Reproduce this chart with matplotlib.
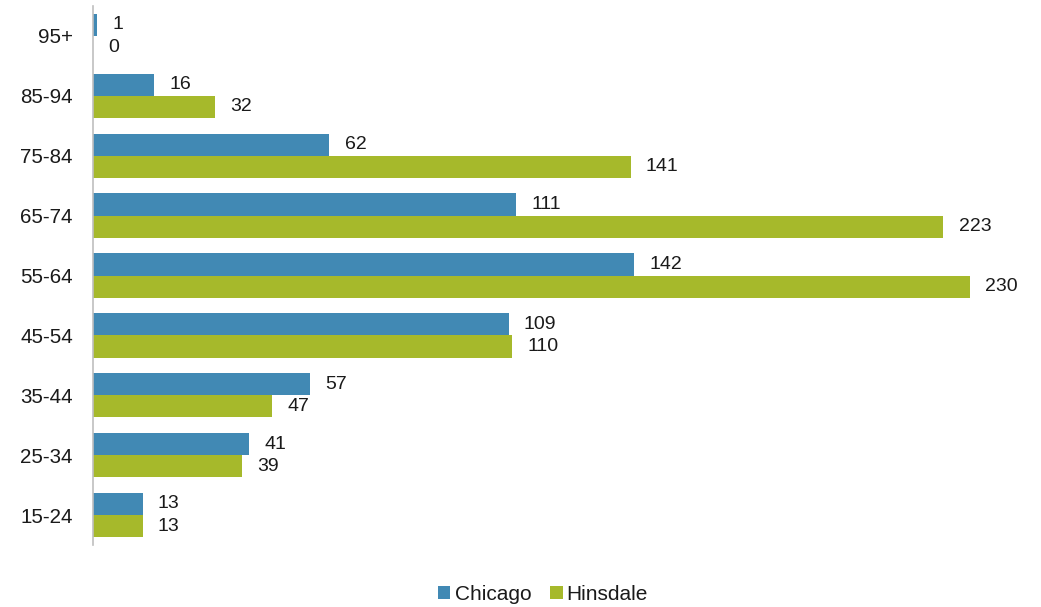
import matplotlib
matplotlib.use("Agg")
import matplotlib.pyplot as plt
import numpy as np

plt.rcParams['font.family'] = ['Liberation Sans', 'DejaVu Sans']

age_groups = ["15-24", "25-34", "35-44", "45-54", "55-64", "65-74", "75-84", "85-94", "95+"]
chicago = [13, 41, 57, 109, 142, 111, 62, 16, 1]
hinsdale = [13, 39, 47, 110, 230, 223, 141, 32, 0]

blue = "#4189B4"
green = "#A6B92B"
text_color = "#1A1A1A"

fig = plt.figure(figsize=(10.41, 6.07), dpi=100)
W, H = 1041, 607
ax = fig.add_axes([93 / W, 1 - 545 / H, (1030 - 93) / W, (545 - 6) / H])

y = np.arange(len(age_groups))
h = 0.37
b1 = ax.barh(y + h / 2, chicago, height=h, color=blue, label="Chicago")
b2 = ax.barh(y - h / 2, hinsdale, height=h, color=green, label="Hinsdale")

for bars in (b1, b2):
    ax.bar_label(bars, padding=11, fontsize=14, color=text_color)

ax.set_xlim(0, (1030 - 93) / ((970 - 93) / 230))
ax.set_ylim(-0.5, 8.5)
ax.set_yticks(y)
ax.set_yticklabels(age_groups, fontsize=14.8, color=text_color)
ax.tick_params(axis='y', length=0, pad=14.5)
ax.set_xticks([])

for side in ("top", "right", "bottom"):
    ax.spines[side].set_visible(False)
ax.spines["left"].set_color("#BFBFBF")
ax.spines["left"].set_linewidth(1.2)

fig.legend(handles=[b1, b2], labels=["Chicago", "Hinsdale"], loc="center",
           bbox_to_anchor=(543 / W, 1 - 594 / H), ncol=2, frameon=False,
           fontsize=15, handlelength=0.6, handleheight=0.6, handletextpad=0.2,
           columnspacing=0.9, labelcolor=text_color)

fig.savefig("out.png", dpi=100)
